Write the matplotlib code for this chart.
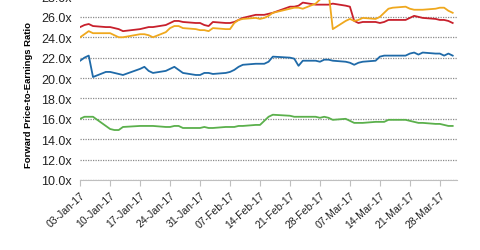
import numpy as np
import pandas as pd
import matplotlib
matplotlib.use("Agg")
import matplotlib.pyplot as plt
import matplotlib.dates as mdates
from matplotlib.ticker import FuncFormatter

plt.rcParams['font.family'] = ['Liberation Sans', 'DejaVu Sans']

# trading days, 3 Jan - 31 Mar 2017
dates = pd.to_datetime([
    '2017-01-03', '2017-01-04', '2017-01-05', '2017-01-06', '2017-01-09', '2017-01-10',
    '2017-01-11', '2017-01-12', '2017-01-13', '2017-01-17', '2017-01-18', '2017-01-19',
    '2017-01-20', '2017-01-23', '2017-01-24', '2017-01-25', '2017-01-26', '2017-01-27',
    '2017-01-30', '2017-01-31', '2017-02-01', '2017-02-02', '2017-02-03', '2017-02-06',
    '2017-02-07', '2017-02-08', '2017-02-09', '2017-02-10', '2017-02-13', '2017-02-14',
    '2017-02-15', '2017-02-16', '2017-02-17', '2017-02-21', '2017-02-22', '2017-02-23',
    '2017-02-24', '2017-02-27', '2017-02-28', '2017-03-01', '2017-03-02', '2017-03-03',
    '2017-03-06', '2017-03-07', '2017-03-08', '2017-03-09', '2017-03-10', '2017-03-13',
    '2017-03-14', '2017-03-15', '2017-03-16', '2017-03-17', '2017-03-20', '2017-03-21',
    '2017-03-22', '2017-03-23', '2017-03-24', '2017-03-27', '2017-03-28', '2017-03-29',
    '2017-03-30', '2017-03-31'])

red = [25.0, 25.2, 25.3, 25.1, 25.0, 25.0, 24.9, 24.8, 24.6, 24.8, 24.9, 25.0,
       25.0, 25.2, 25.4, 25.6, 25.6, 25.5, 25.4, 25.4, 25.2, 25.1, 25.5, 25.4,
       25.4, 25.5, 25.7, 25.9, 26.2, 26.2, 26.2, 26.3, 26.4, 27.0, 27.0, 27.1,
       27.4, 27.2, 27.2, 27.2, 27.2, 27.3, 27.1, 27.0, 25.6, 25.4, 25.5, 25.5,
       25.4, 25.5, 25.7, 25.7, 25.7, 25.9, 26.1, 26.0, 25.9, 25.8, 25.7, 25.7,
       25.6, 25.4]

orange = [24.0, 24.3, 24.6, 24.4, 24.4, 24.4, 24.2, 24.0, 24.0, 24.3, 24.3, 24.2,
          24.0, 24.5, 24.9, 25.1, 25.1, 24.9, 24.8, 24.7, 24.7, 24.6, 24.9, 24.8,
          24.8, 25.4, 25.7, 25.8, 25.9, 25.8, 25.9, 26.1, 26.4, 26.8, 26.9, 26.9,
          26.8, 27.3, 27.7, 28.3, 28.5, 24.8, 25.6, 25.8, 25.6, 25.7, 25.9, 25.8,
          26.0, 26.4, 26.8, 26.9, 27.0, 26.8, 26.7, 26.7, 26.7, 26.8, 26.9, 26.9,
          26.6, 26.4]

blue = [21.7, 22.0, 22.2, 20.1, 20.6, 20.6, 20.5, 20.4, 20.3, 20.9, 21.1, 20.7,
        20.5, 20.7, 20.9, 21.1, 20.8, 20.5, 20.3, 20.3, 20.5, 20.5, 20.4, 20.5,
        20.6, 20.8, 21.1, 21.3, 21.4, 21.4, 21.4, 21.6, 22.1, 22.0, 21.9, 21.2,
        21.7, 21.7, 21.6, 21.8, 21.8, 21.7, 21.6, 21.5, 21.3, 21.5, 21.6, 21.7,
        22.1, 22.2, 22.2, 22.2, 22.2, 22.4, 22.5, 22.3, 22.5, 22.4, 22.4, 22.2,
        22.4, 22.2]

green = [16.0, 16.2, 16.2, 16.2, 15.3, 15.0, 14.9, 14.9, 15.2, 15.3, 15.3, 15.3,
         15.3, 15.2, 15.2, 15.3, 15.3, 15.1, 15.1, 15.1, 15.2, 15.1, 15.1, 15.2,
         15.2, 15.2, 15.3, 15.3, 15.4, 15.4, 15.8, 16.2, 16.4, 16.3, 16.2, 16.2,
         16.2, 16.2, 16.1, 16.2, 16.1, 15.9, 16.0, 15.8, 15.6, 15.6, 15.6, 15.7,
         15.7, 15.7, 15.9, 15.9, 15.9, 15.8, 15.7, 15.6, 15.6, 15.5, 15.5, 15.4,
         15.3, 15.3]

tick_dates = pd.date_range('2017-01-03', '2017-03-28', freq='7D')
y_ticks = np.arange(10, 29, 2)

fig = plt.figure(figsize=(4.8, 2.51), dpi=100)
ax = fig.add_axes([0.167, 0.279, 0.785, 0.731])

ax.plot(dates, red, c='#C8202C', lw=1.3)
ax.plot(dates, orange, c='#EFA81E', lw=1.3)
ax.plot(dates, blue, c='#1F6AA8', lw=1.3)
ax.plot(dates, green, c='#5BB04C', lw=1.3)

ax.set_ylim(10, 28)
ax.set_yticks(y_ticks)
ax.yaxis.set_major_formatter(FuncFormatter(lambda v, p: '%.1fx' % v))
ax.set_xlim(pd.Timestamp('2017-01-03'), pd.Timestamp('2017-04-01'))
ax.set_xticks(tick_dates)
ax.xaxis.set_major_formatter(mdates.DateFormatter('%d-%b-%y'))
plt.setp(ax.get_xticklabels(), rotation=42, ha='right', rotation_mode='anchor')

ax.grid(axis='y', ls=(0, (1, 1)), c='#8a8a8a', lw=0.9)
ax.set_axisbelow(True)
for s in ['top', 'right', 'left']:
    ax.spines[s].set_visible(False)
ax.spines['bottom'].set_color('#bfbfbf')
ax.tick_params(axis='y', length=0, labelsize=9, pad=6, colors='#222222')
ax.tick_params(axis='x', length=4, labelsize=7.5, pad=3, colors='#bfbfbf', labelcolor='#222222')

ax.set_ylabel('Forward Price-to-Earnings Ratio', fontsize=6.8, fontweight='bold', labelpad=5)
ax.yaxis.set_label_coords(-0.125, 0.47)

fig.savefig('out.png', dpi=100)
